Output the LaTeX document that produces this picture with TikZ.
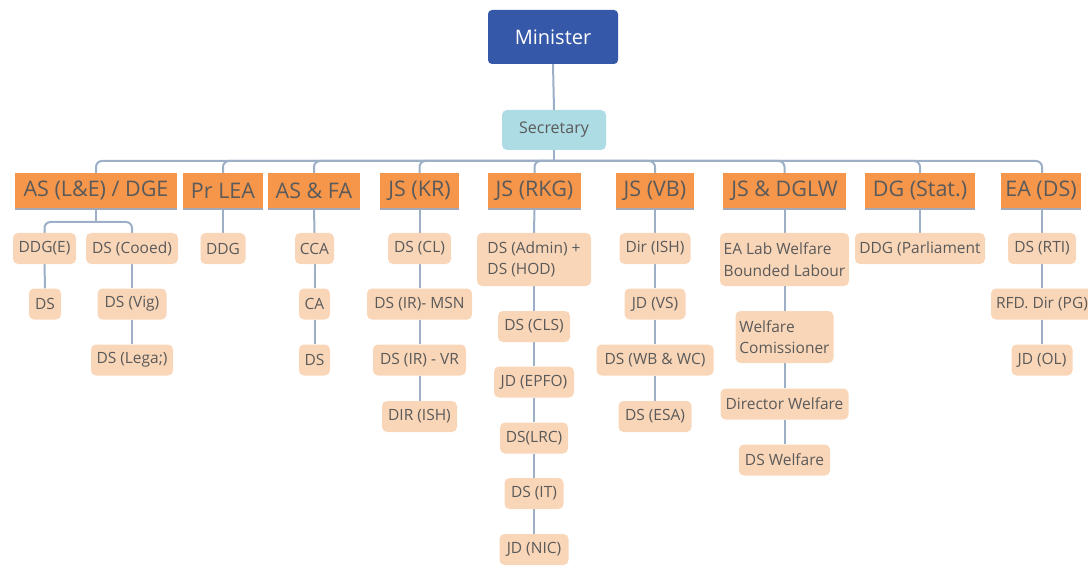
\documentclass[tikz,border=0pt]{standalone}
\usepackage{fontspec}
\setmainfont{Open Sans}
\usetikzlibrary{backgrounds}
\definecolor{ministerblue}{HTML}{3558A8}
\definecolor{secblue}{HTML}{ADDCE5}
\definecolor{topor}{HTML}{F5964B}
\definecolor{peach}{HTML}{F9D6B8}
\definecolor{txt}{HTML}{5A5A5A}
\definecolor{linec}{HTML}{9DAFC6}
\definecolor{shade}{HTML}{A4A8B4}
\tikzset{
  link/.style={draw=linec, line width=2pt, rounded corners=6pt},
  headbox/.style={fill=topor, text=txt, inner sep=0pt, minimum height=35pt,
    font=\fontsize{21.5}{24}\selectfont},
  unit/.style={fill=peach, text=txt, inner sep=0pt, rounded corners=5pt,
    minimum height=31pt, align=left, font=\fontsize{15.5}{21.5}\selectfont},
  shadeline/.style={draw=shade, line width=1.6pt},
}
\begin{document}
\begin{tikzpicture}[x=1pt,y=-1pt]
\useasboundingbox (0,0) rectangle (1088,567);

% top of the hierarchy
\node[fill=ministerblue, text=white, rounded corners=4pt, inner sep=0pt,
  minimum width=130pt, minimum height=54pt, font=\fontsize{20}{24}\selectfont]
  (minister) at (553,37) {Minister};
\node[fill=secblue, text=txt, rounded corners=5pt, inner sep=0pt,
  minimum width=104pt, minimum height=40pt, font=\fontsize{16}{19}\selectfont]
  (secretary) at (554,130) {Secretary};
\coordinate (bus) at (554,161);

% heads of wings
\node[headbox, minimum width=162pt] (as)     at (96,190.5)    {AS (L\&E) / DGE};
\node[headbox, minimum width=80pt]  (prlea)  at (223,190.5)   {Pr LEA};
\node[headbox, minimum width=92pt]  (asfa)   at (314,190.5)   {AS \& FA};
\node[headbox, minimum width=79pt]  (jskr)   at (419.5,190.5) {JS (KR)};
\node[headbox, minimum width=93pt]  (jsrkg)  at (534.5,190.5) {JS (RKG)};
\node[headbox, minimum width=78pt]  (jsvb)   at (655,190.5)   {JS (VB)};
\node[headbox, minimum width=123pt] (jsdglw) at (784.5,190.5) {JS \& DGLW};
\node[headbox, minimum width=110pt] (dgstat) at (920,190.5)   {DG (Stat.)};
\node[headbox, minimum width=80pt]  (eads)   at (1041,190.5)  {EA (DS)};
\foreach \n in {as,prlea,asfa,jskr,jsrkg,jsvb,jsdglw,dgstat,eads}
  \draw[shadeline] ([yshift=-0.8pt]\n.south west) -- ([yshift=-0.8pt]\n.south east);

% AS (L&E) / DGE
\coordinate (split) at (96,222);
\node[unit, minimum width=63pt] (ddge)    at (44.5,248.5) {DDG(E)};
\node[unit, minimum width=92pt] (dscooed) at (132,248.5)  {DS (Cooed)};
\node[unit, minimum width=32pt] (dsa)     at (45,304)     {DS};
\node[unit, minimum width=69pt] (dsvig)   at (132,304)    {DS (Vig)};
\node[unit, minimum width=82pt] (dslegal) at (132,360)    {DS (Lega;)};

% Pr LEA
\node[unit, minimum width=45pt] (ddg) at (223,248.5) {DDG};

% AS & FA
\node[unit, minimum width=39pt] (cca) at (314.5,248.5) {CCA};
\node[unit, minimum width=31pt] (ca)  at (314.5,304)   {CA};
\node[unit, minimum width=31pt] (dsb) at (314.5,360)   {DS};

% JS (KR)
\node[unit, minimum width=63pt]  (dscl)    at (419.5,248.5) {DS (CL)};
\node[unit, minimum width=105pt] (dsirmsn) at (419.5,304)   {DS (IR)- MSN};
\node[unit, minimum width=93pt]  (dsirvr)  at (419.5,360)   {DS (IR) - VR};
\node[unit, minimum width=75pt]  (dirisha) at (419.5,416.5) {DIR (ISH)};

% JS (RKG)
\node[unit, minimum width=114pt, minimum height=53pt] (dsadmin) at (534,259.5)
  {DS (Admin) +\\DS (HOD)};
\node[unit, minimum width=72pt] (dscls)  at (534,326.5) {DS (CLS)};
\node[unit, minimum width=80pt] (jdepfo) at (534,382)   {JD (EPFO)};
\node[unit, minimum width=68pt] (dslrc)  at (534,438)   {DS(LRC)};
\node[unit, minimum width=59pt] (dsit)   at (534,493.5) {DS (IT)};
\node[unit, minimum width=69pt] (jdnic)  at (534,549.5) {JD (NIC)};

% JS (VB)
\node[unit, minimum width=71pt]  (dirishb) at (655,248.5) {Dir (ISH)};
\node[unit, minimum width=61pt]  (jdvs)    at (655,304)   {JD (VS)};
\node[unit, minimum width=117pt] (dswb)    at (655,360)   {DS (WB \& WC)};
\node[unit, minimum width=73pt]  (dsesa)   at (655,416.5) {DS (ESA)};

% JS & DGLW
\node[unit, minimum width=129pt, minimum height=53pt] (ealab) at (784.5,259.5)
  {EA Lab Welfare\\Bounded Labour};
\node[unit, minimum width=98pt, minimum height=52pt] (welcom) at (784.5,337)
  {Welfare\\Comissioner};
\node[unit, minimum width=128pt] (dirwel) at (784.5,404) {Director Welfare};
\node[unit, minimum width=91pt]  (dswel)  at (784.5,460) {DS Welfare};

% DG (Stat.)
\node[unit, minimum width=130pt] (ddgparl) at (920,248.5) {DDG (Parliament};

% EA (DS)
\node[unit, minimum width=68pt]  (dsrti) at (1042,248.5) {DS (RTI)};
\node[unit, minimum width=102pt] (rfd)   at (1042,304)   {RFD. Dir (PG)};
\node[unit, minimum width=61pt]  (jdol)  at (1042,360)   {JD (OL)};

% connectors
\begin{pgfonlayer}{background}
  \draw[link] (minister.south) -- (secretary.north);
  \draw[link] (secretary.south) -- (bus);
  \foreach \n in {as,prlea,asfa,jskr,jsrkg,jsvb,jsdglw,dgstat}
    \draw[link] (bus) -| (\n.north);
  \draw[link] (bus) -| ([xshift=1pt]eads.north);
  \draw[link] (as.south) -- (split);
  \draw[link] (split) -| (ddge.north);
  \draw[link] (split) -| (dscooed.north);
  \draw[link] (ddge.south) -- (dsa.north);
  \draw[link] (dscooed.south) -- (dsvig.north);
  \draw[link] (dsvig.south) -- (dslegal.north);
  \draw[link] (prlea.south) -- (ddg.north);
  \draw[link] (asfa.south) -- (cca.north);
  \draw[link] (cca.south) -- (ca.north);
  \draw[link] (ca.south) -- (dsb.north);
  \draw[link] (jskr.south) -- (dscl.north);
  \draw[link] (dscl.south) -- (dsirmsn.north);
  \draw[link] (dsirmsn.south) -- (dsirvr.north);
  \draw[link] (dsirvr.south) -- (dirisha.north);
  \draw[link] (jsrkg.south) -- (dsadmin.north);
  \draw[link] (dsadmin.south) -- (dscls.north);
  \draw[link] (dscls.south) -- (jdepfo.north);
  \draw[link] (jdepfo.south) -- (dslrc.north);
  \draw[link] (dslrc.south) -- (dsit.north);
  \draw[link] (dsit.south) -- (jdnic.north);
  \draw[link] (jsvb.south) -- (dirishb.north);
  \draw[link] (dirishb.south) -- (jdvs.north);
  \draw[link] (jdvs.south) -- (dswb.north);
  \draw[link] (dswb.south) -- (dsesa.north);
  \draw[link] (jsdglw.south) -- (ealab.north);
  \draw[link] (ealab.south) -- (welcom.north);
  \draw[link] (welcom.south) -- (dirwel.north);
  \draw[link] (dirwel.south) -- (dswel.north);
  \draw[link] (dgstat.south) -- (ddgparl.north);
  \draw[link] ([xshift=1pt]eads.south) -- (dsrti.north);
  \draw[link] (dsrti.south) -- (rfd.north);
  \draw[link] (rfd.south) -- (jdol.north);
\end{pgfonlayer}
\end{tikzpicture}
\end{document}
